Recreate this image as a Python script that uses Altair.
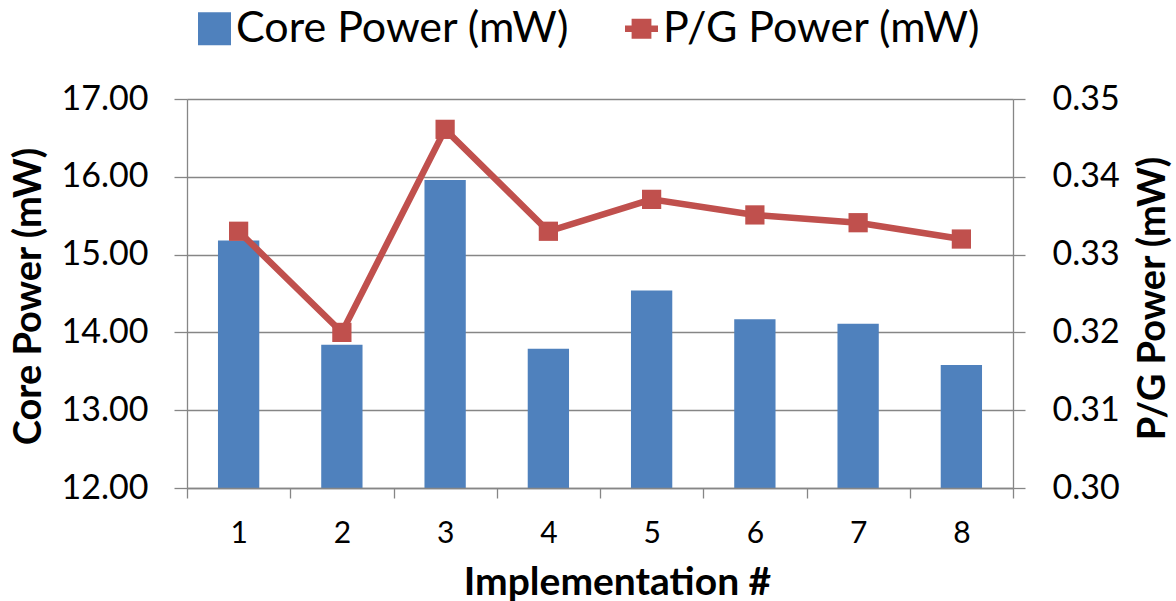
import altair as alt
import pandas as pd

# Values per implementation
implementations = [1, 2, 3, 4, 5, 6, 7, 8]
core_power = [15.18, 13.84, 15.96, 13.79, 14.54, 14.17, 14.11, 13.58]
pg_power = [0.3330, 0.3200, 0.3461, 0.3330, 0.3371, 0.3351, 0.3341, 0.3320]

core_ticks = [12, 13, 14, 15, 16, 17]
pg_ticks = [0.30, 0.31, 0.32, 0.33, 0.34, 0.35]
core_floor = core_ticks[0]

core_label = "Core Power (mW)"
pg_label = "P/G Power (mW)"
x_title = "Implementation #"

BLUE = "#4F81BD"
RED = "#C0504D"
GRAY = "#868686"
FONT = "Lato"

df = pd.DataFrame({"impl": implementations, "core": core_power, "pg": pg_power})
base = alt.Chart(df)

x_enc = alt.X(
    "impl:O",
    scale=alt.Scale(type="band", paddingInner=0, paddingOuter=0),
    axis=alt.Axis(
        title=x_title,
        labelAngle=0,
        labelFont=FONT,
        labelFontSize=30,
        labelColor="black",
        labelPadding=20,
        tickBand="extent",
        tickSize=10,
        tickColor=GRAY,
        tickWidth=1.3,
        domainColor=GRAY,
        domainWidth=1.3,
        titleFont=FONT,
        titleFontSize=39,
        titleFontWeight="bold",
        titleColor="black",
        titleX=430,
        titleY=106,
        titleAlign="center",
        titleBaseline="alphabetic",
        zindex=1,
    ),
)

bars = base.mark_bar(width=alt.RelativeBandSize(0.4), color=BLUE).encode(
    x=x_enc,
    y=alt.Y(
        "core:Q",
        scale=alt.Scale(domain=[12, 17], zero=False, nice=False),
        axis=alt.Axis(
            values=core_ticks,
            format=".2f",
            title=core_label,
            grid=True,
            gridColor=GRAY,
            gridWidth=1.3,
            labelFont=FONT,
            labelFontSize=34,
            labelColor="black",
            labelPadding=26,
            tickSize=13,
            tickColor=GRAY,
            tickWidth=1.3,
            domainColor=GRAY,
            domainWidth=1.3,
            titleFont=FONT,
            titleFontSize=38,
            titleFontWeight="bold",
            titleColor="black",
            titleAngle=270,
            titleX=-158,
            titleY=197,
            titleAlign="center",
            titleBaseline="middle",
        ),
    ),
    y2=alt.datum(core_floor),
)

pg_y = alt.Y(
    "pg:Q",
    scale=alt.Scale(domain=[0.30, 0.35], zero=False, nice=False),
    axis=alt.Axis(
        orient="right",
        values=pg_ticks,
        format=".2f",
        title=pg_label,
        grid=False,
        labelFont=FONT,
        labelFontSize=34,
        labelColor="black",
        labelPadding=27,
        tickSize=12,
        tickColor=GRAY,
        tickWidth=1.3,
        domainColor=GRAY,
        domainWidth=1.3,
        titleFont=FONT,
        titleFontSize=38,
        titleFontWeight="bold",
        titleColor="black",
        titleAngle=270,
        titleX=140,
        titleY=199,
        titleAlign="center",
        titleBaseline="middle",
    ),
)

line = base.mark_line(color=RED, strokeWidth=6.5).encode(x=x_enc, y=pg_y)

points = base.mark_point(
    shape="square", filled=True, size=370, opacity=1, color=RED
).encode(x=x_enc, y=pg_y)

# Legend: a filled square for the bars, a short line through a square for the line
line_marker_path = "M-1,-0.2H-0.6V-0.6H0.6V-0.2H1V0.2H0.6V0.6H-0.6V0.2H-1Z"

legend_def = alt.Legend(
    title=None,
    orient="none",
    legendX=6,
    legendY=-92,
    direction="horizontal",
    padding=0,
    labelFont=FONT,
    labelFontSize=43,
    labelColor="black",
    labelLimit=800,
    labelOffset=0,
    columnPadding=50,
    symbolSize=1089,
    symbolStrokeWidth=0,
    symbolOpacity=1,
)

legend_layer = (
    base.transform_filter("false")
    .transform_calculate(series=f"'{pg_label}'")
    .mark_point(filled=True, opacity=1)
    .encode(
        x=x_enc,
        y=pg_y,
        color=alt.Color(
            "series:N",
            scale=alt.Scale(domain=[core_label, pg_label], range=[BLUE, RED]),
            legend=legend_def,
        ),
        shape=alt.Shape(
            "series:N",
            scale=alt.Scale(
                domain=[core_label, pg_label], range=["square", line_marker_path]
            ),
            legend=legend_def,
        ),
    )
)

chart = (
    alt.layer(bars, alt.layer(line, points, legend_layer))
    .resolve_scale(y="independent")
    .properties(
        width=826,
        height=389,
        autosize=alt.AutoSizeParams(type="none"),
        padding={"left": 187, "top": 99, "right": 163, "bottom": 113},
    )
    .configure_view(stroke=None)
    .configure(background="white")
)

chart.save("out.html", embed_options={"renderer": "svg", "actions": False})
